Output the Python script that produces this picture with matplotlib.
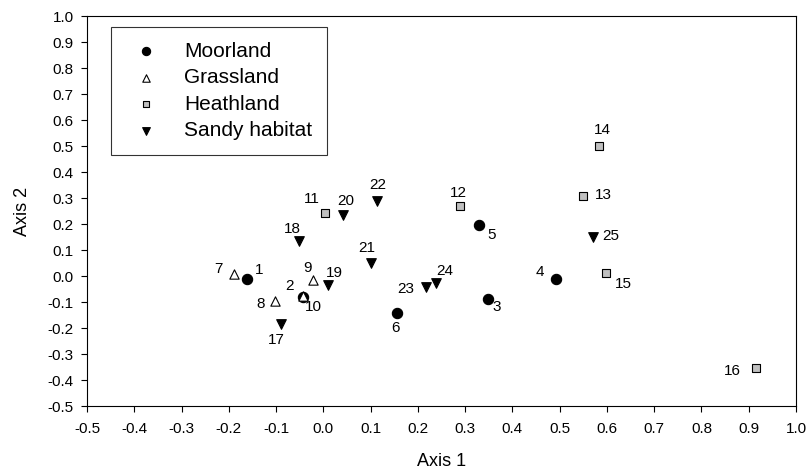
import matplotlib
matplotlib.use("Agg")
import matplotlib.pyplot as plt
import numpy as np

plt.rcParams['font.family'] = ['Liberation Sans', 'DejaVu Sans']

# Data
moor_id = [1, 2, 3, 4, 5, 6]
moor_x = [-0.161, -0.042, 0.348, 0.492, 0.329, 0.156]
moor_y = [-0.012, -0.082, -0.088, -0.012, 0.196, -0.141]

grass_id = [7, 8, 9, 10]
grass_x = [-0.190, -0.103, -0.022, -0.043]
grass_y = [0.006, -0.096, -0.015, -0.078]

heath_id = [11, 12, 13, 14, 15, 16]
heath_x = [0.004, 0.290, 0.549, 0.583, 0.598, 0.915]
heath_y = [0.242, 0.269, 0.308, 0.500, 0.012, -0.355]

sandy_id = [17, 18, 19, 20, 21, 22, 23, 24, 25]
sandy_x = [-0.090, -0.052, 0.010, 0.041, 0.100, 0.114, 0.217, 0.239, 0.570]
sandy_y = [-0.185, 0.135, -0.036, 0.235, 0.051, 0.290, -0.044, -0.026, 0.150]

tick_vals = [-0.5, -0.4, -0.3, -0.2, -0.1, 0.0, 0.1, 0.2, 0.3, 0.4, 0.5, 0.6, 0.7, 0.8, 0.9, 1.0]
tick_labels = ["-0.5", "-0.4", "-0.3", "-0.2", "-0.1", "0.0", "0.1", "0.2", "0.3", "0.4",
               "0.5", "0.6", "0.7", "0.8", "0.9", "1.0"]

# label offsets (pixels) per site id
offsets = {1: (12, 9), 2: (-14, 11), 3: (9, -8), 4: (-16, 7), 5: (13, -10), 6: (-2, -15),
           7: (-15, 5), 8: (-14, -3), 9: (-5, 12), 10: (10, -11), 11: (-13, 14), 12: (-2, 13),
           13: (21, 1), 14: (3, 16), 15: (17, -11), 16: (-23, -3), 17: (-4, -16), 18: (-6, 12),
           19: (6, 12), 20: (3, 14), 21: (-4, 15), 22: (1, 16), 23: (-20, -2), 24: (8, 12), 25: (18, 1)}

fig = plt.figure(figsize=(8.10, 4.72), dpi=100)
ax = fig.add_axes([87/810, 1-406/472, 709/810, 390/472])

ax.scatter(moor_x, moor_y, s=55, marker='o', facecolor='black', edgecolor='black', linewidth=0.8, label='Moorland', zorder=3)
ax.scatter(grass_x, grass_y, s=45, marker='^', facecolor='white', edgecolor='black', linewidth=0.8, label='Grassland', zorder=4)
ax.scatter(heath_x, heath_y, s=32, marker='s', facecolor='#c0c0c0', edgecolor='black', linewidth=0.8, label='Heathland', zorder=3)
ax.scatter(sandy_x, sandy_y, s=48, marker='v', facecolor='black', edgecolor='black', linewidth=0.8, label='Sandy habitat', zorder=3)

for ids, xs, ys in [(moor_id, moor_x, moor_y), (grass_id, grass_x, grass_y),
                    (heath_id, heath_x, heath_y), (sandy_id, sandy_x, sandy_y)]:
    for i, x, y in zip(ids, xs, ys):
        dx, dy = offsets[i]
        ax.annotate(str(i), (x, y), xytext=(dx, dy), textcoords='offset pixels',
                    ha='center', va='center', fontsize=11)

ax.set_xlim(-0.5, 1.0)
ax.set_ylim(-0.5, 1.0)
ax.set_xticks(tick_vals)
ax.set_yticks(tick_vals)
ax.set_xticklabels(tick_labels)
ax.set_yticklabels(tick_labels)
ax.tick_params(direction='out', length=4.5, width=0.8, labelsize=11, top=False, right=False)
ax.tick_params(axis='x', pad=7)
ax.tick_params(axis='y', pad=5)
for sp in ax.spines.values():
    sp.set_linewidth(0.8)

ax.set_xlabel('Axis 1', fontsize=13, labelpad=12)
ax.set_ylabel('Axis 2', fontsize=13, labelpad=12)

leg = ax.legend(loc='upper left', bbox_to_anchor=((111-87)/709, (406-27)/390), fontsize=15,
                frameon=True, fancybox=False, edgecolor='black', markerscale=0.8,
                handletextpad=0.8, labelspacing=0.36, borderpad=0.7, borderaxespad=0,
                handlelength=2.0)
leg.get_frame().set_linewidth(0.8)

fig.savefig('out.png', dpi=100)
